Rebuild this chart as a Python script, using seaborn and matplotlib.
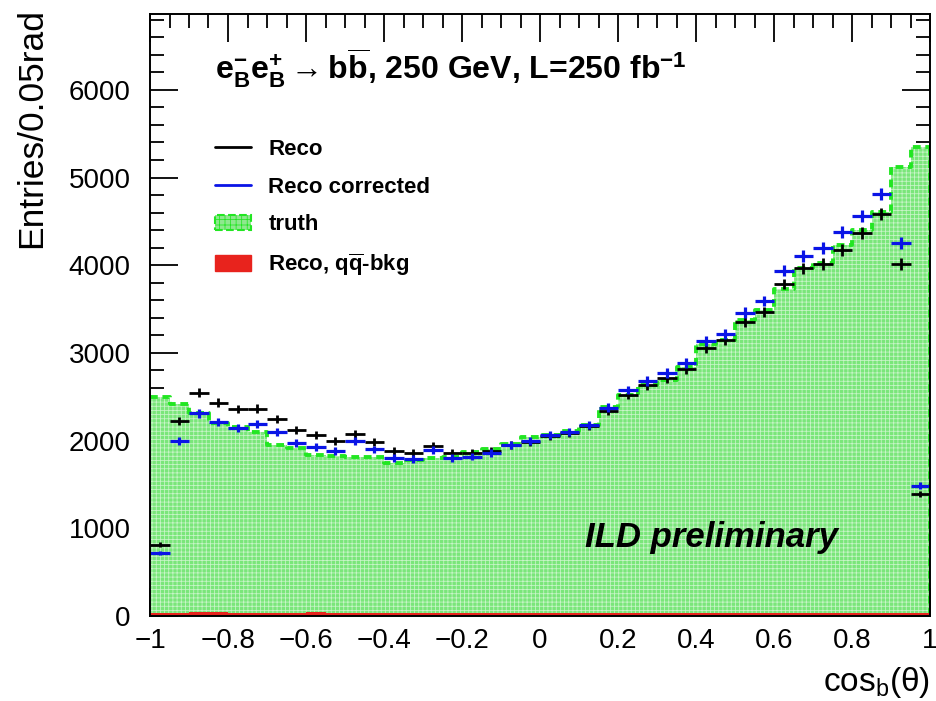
import numpy as np
import pandas as pd
import matplotlib
matplotlib.use("Agg")
import matplotlib.pyplot as plt
from matplotlib.ticker import MultipleLocator, FuncFormatter
from matplotlib.lines import Line2D
from matplotlib.patches import Patch
import seaborn as sns

# ---------------- data (40 bins of 0.05 in cos_b(theta)) ----------------
bin_edges = [round(-1.0 + 0.05 * i, 3) for i in range(41)]
bin_centers = [round(-0.975 + 0.05 * i, 3) for i in range(40)]

truth = [2500, 2420, 2315, 2200, 2155, 2100, 1950, 1915, 1835, 1825,
         1813, 1813, 1745, 1780, 1800, 1813, 1870, 1900, 1960, 2040,
         2064, 2115, 2175, 2380, 2520, 2634, 2690, 2840, 3100, 3147,
         3375, 3490, 3727, 3968, 4025, 4230, 4400, 4610, 5120, 5350]

reco = [810, 2227, 2546, 2432, 2360, 2364, 2245, 2121, 2064, 2000,
        2075, 1984, 1880, 1862, 1938, 1858, 1862, 1880, 1950, 1985,
        2050, 2090, 2165, 2341, 2520, 2634, 2714, 2816, 3060, 3147,
        3358, 3463, 3785, 3968, 4014, 4173, 4367, 4584, 4014, 1391]

reco_corrected = [718, 1995, 2310, 2215, 2147, 2190, 2098, 1973, 1930, 1880,
                  1995, 1900, 1800, 1790, 1893, 1800, 1817, 1858, 1950, 1995,
                  2064, 2100, 2178, 2375, 2577, 2680, 2770, 2885, 3136, 3215,
                  3460, 3590, 3937, 4105, 4196, 4379, 4561, 4812, 4253, 1486]

qq_bkg = [32, 35, 50, 50, 38, 35, 35, 38, 40, 38,
          36, 35, 34, 33, 32, 32, 32, 32, 32, 32,
          32, 32, 32, 32, 32, 32, 32, 32, 32, 32,
          32, 32, 32, 32, 32, 33, 34, 34, 34, 32]

legend_labels = ["Reco", "Reco corrected", "truth", r"Reco, q$\mathbf{\overline{q}}$-bkg"]
title_text = (r"e$^{\mathbf{-}}_{\mathbf{B}}$e$^{\mathbf{+}}_{\mathbf{B}}$ $\!\!\rightarrow\!\!$ "
              r"b$\mathbf{\overline{b}}$, 250 GeV, L=250 fb$^{\mathbf{-1}}$")
watermark = "ILD preliminary"
x_label = r"cos$_{\mathrm{b}}$(θ)"
y_label = "Entries/0.05rad"

df = pd.DataFrame({"x": bin_centers, "truth": truth, "reco": reco,
                   "reco_corr": reco_corrected, "bkg": qq_bkg})

# ---------------- style ----------------
sns.set_theme(style="ticks")
plt.rcParams["font.family"] = ["Liberation Sans", "DejaVu Sans"]
plt.rcParams["mathtext.fontset"] = "custom"
plt.rcParams["mathtext.rm"] = "Liberation Sans"
plt.rcParams["mathtext.it"] = "Liberation Sans:italic"
plt.rcParams["mathtext.bf"] = "Liberation Sans:bold"
plt.rcParams["hatch.linewidth"] = 0.55
plt.rcParams["axes.unicode_minus"] = True
for key in ["text.color", "axes.labelcolor", "xtick.color", "ytick.color",
            "xtick.labelcolor", "ytick.labelcolor", "axes.edgecolor"]:
    plt.rcParams[key] = "black"

fig = plt.figure(figsize=(9.36, 7.01), dpi=100)
ax = fig.add_axes([150 / 936, 1 - 616 / 701, 780 / 936, 602 / 701])

green_face = "#7ae67a"
green_line = "#22e622"

# truth filled histogram
sns.histplot(data=df, x="x", weights="truth", bins=bin_edges, element="step",
             fill=True, color=green_face, alpha=1.0, linewidth=0, ax=ax, zorder=2)
fillcoll = ax.collections[-1]
fillcoll.set_hatch("++++")
fillcoll.set_edgecolor((1, 1, 1, 0.6))
fillcoll.set_linewidth(0)

# truth dashed outline
sns.histplot(data=df, x="x", weights="truth", bins=bin_edges, element="step",
             fill=False, color=green_line, linestyle=(0, (2.0, 1.2)), linewidth=2.8,
             ax=ax, zorder=2.2)
ax.vlines(bin_edges[-1], 0, truth[-1], colors=green_line, linestyles=(0, (2.0, 1.2)),
          linewidth=2.8, zorder=2.2)

# q qbar background (red)
sns.histplot(data=df, x="x", weights="bkg", bins=bin_edges, element="step",
             fill=True, color="#e8231d", alpha=1.0, linewidth=0, ax=ax, zorder=2.5)

# Reco (black)
ax.errorbar(df["x"], df["reco"], xerr=0.025, yerr=np.sqrt(df["reco"]),
            fmt="none", ecolor="black", elinewidth=2.0, capsize=0, zorder=2.8)

# Reco corrected (blue) on top
ax.errorbar(df["x"], df["reco_corr"], xerr=0.025, yerr=np.sqrt(df["reco_corr"]),
            fmt="none", ecolor="#0a14e6", elinewidth=2.3, capsize=0, zorder=3)

# ---------------- axes ----------------
ax.set_xlim(-1, 1)
ax.set_ylim(0, 6865)
ax.set_xlabel("")
ax.set_ylabel("")
ax.xaxis.set_major_locator(MultipleLocator(0.2))
ax.xaxis.set_minor_locator(MultipleLocator(0.05))
ax.yaxis.set_major_locator(MultipleLocator(1000))
ax.yaxis.set_minor_locator(MultipleLocator(200))
ax.xaxis.set_major_formatter(FuncFormatter(lambda v, p: ("%g" % np.round(v, 2)).replace("-", "\u2212")))
ax.yaxis.set_major_formatter(FuncFormatter(lambda v, p: "%d" % int(round(v))))
ax.tick_params(which="both", direction="in", top=True, right=True, width=1.3,
               colors="black", labelsize=20)
ax.tick_params(axis="y", which="major", length=20, pad=14)
ax.tick_params(axis="y", which="minor", length=10)
ax.tick_params(axis="x", which="major", length=20, pad=9)
ax.tick_params(axis="x", which="minor", length=10)
for s in ax.spines.values():
    s.set_linewidth(1.4)
    s.set_color("black")
    s.set_zorder(5)

fig.text(32 / 936, 1 - 8 / 701, y_label, rotation=90, ha="center", va="top",
         fontsize=25.5, color="black")
fig.text(930 / 936, 1 - 682 / 701, x_label, ha="right", va="center", fontsize=24,
         color="black")

ax.text(0.0833, 0.910, title_text, transform=ax.transAxes, ha="left", va="center",
        fontsize=23, fontweight="bold", color="black")
ax.text(0.5577, 0.131, watermark, transform=ax.transAxes, ha="left", va="center",
        fontsize=25, fontweight="bold", style="italic", color="black", zorder=4)

handles = [
    Line2D([], [], color="black", linewidth=2.0),
    Line2D([], [], color="#0a14e6", linewidth=2.0),
    Patch(facecolor="#8ee88e", edgecolor=green_line, hatch="+++", linestyle="--", linewidth=1.5),
    Patch(facecolor="#e8231d", edgecolor="#e8231d"),
]
leg = ax.legend(handles, legend_labels, loc="upper left", bbox_to_anchor=(0.0833, 0.792),
                frameon=False, borderpad=0, borderaxespad=0, handlelength=1.6,
                handletextpad=0.8, labelspacing=0.74,
                prop={"family": ["Liberation Sans", "DejaVu Sans"], "weight": "bold", "size": 16})
for t in leg.get_texts():
    t.set_color("black")

fig.savefig("out.png", dpi=100)
